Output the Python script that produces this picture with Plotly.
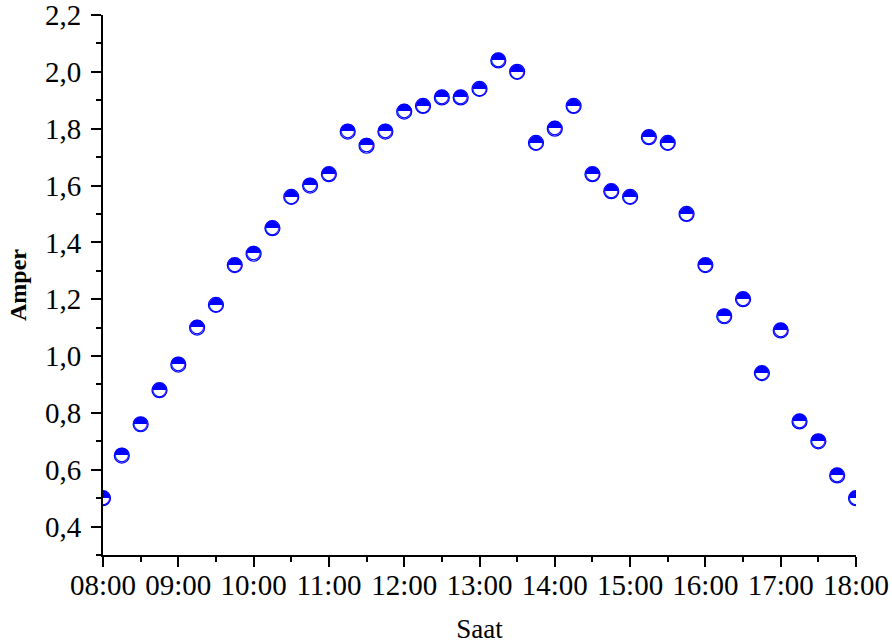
import plotly.graph_objects as go

times = ["08:00", "08:15", "08:30", "08:45", "09:00", "09:15", "09:30", "09:45",
         "10:00", "10:15", "10:30", "10:45", "11:00", "11:15", "11:30", "11:45",
         "12:00", "12:15", "12:30", "12:45", "13:00", "13:15", "13:30", "13:45",
         "14:00", "14:15", "14:30", "14:45", "15:00", "15:15", "15:30", "15:45",
         "16:00", "16:15", "16:30", "16:45", "17:00", "17:15", "17:30", "17:45",
         "18:00"]
amper = [0.50, 0.65, 0.76, 0.88, 0.97, 1.10, 1.18, 1.32,
         1.36, 1.45, 1.56, 1.60, 1.64, 1.79, 1.74, 1.79,
         1.86, 1.88, 1.91, 1.91, 1.94, 2.04, 2.00, 1.75,
         1.80, 1.88, 1.64, 1.58, 1.56, 1.77, 1.75, 1.50,
         1.32, 1.14, 1.20, 0.94, 1.09, 0.77, 0.70, 0.58,
         0.50]
y_ticks = [0.4, 0.6, 0.8, 1.0, 1.2, 1.4, 1.6, 1.8, 2.0, 2.2]
y_minor = [0.3, 0.5, 0.7, 0.9, 1.1, 1.3, 1.5, 1.7, 1.9, 2.1]

day = "2024-01-01 "
x = [day + t for t in times]

fig = go.Figure()
# white circle with blue outline (lower half)
fig.add_trace(go.Scatter(
    x=x, y=amper, mode="markers", cliponaxis=True,
    marker=dict(symbol="circle", size=15, color="white",
                line=dict(color="#0000ff", width=1.2)),
    showlegend=False, hoverinfo="skip"))
# upper half filled glyph
fig.add_trace(go.Scatter(
    x=x, y=amper, mode="text", cliponaxis=True,
    text=["\u25d3"] * len(x), textposition="middle center",
    textfont=dict(family="DejaVu Sans", size=19, color="#0000ff"),
    showlegend=False, hoverinfo="skip"))

axis_font = dict(family="Liberation Serif", size=29, color="black")

fig.update_layout(
    width=892, height=644,
    margin=dict(l=103, r=36, t=15, b=89),
    plot_bgcolor="white", paper_bgcolor="white",
    separators=", ",
    font=dict(family="Liberation Serif", color="black"),
)
fig.update_xaxes(
    type="date", automargin=False,
    range=[day + "08:00", day + "18:00"],
    tickformat="%H:%M", dtick=3600000, tick0=day + "08:00",
    ticks="outside", ticklen=10, tickwidth=1.6, tickcolor="black",
    ticklabelstandoff=-7, ticklabeloverflow="allow",
    minor=dict(dtick=1800000, tick0=day + "08:00", ticks="outside",
               ticklen=5, tickwidth=1.6, tickcolor="black", showgrid=False),
    showline=True, linecolor="black", linewidth=2,
    showgrid=False, zeroline=False,
    tickfont=axis_font,
    title=dict(text="Saat", font=dict(family="Liberation Serif", size=27), standoff=19),
)
fig.update_yaxes(
    automargin=False,
    range=[0.3, 2.2],
    tickmode="array", tickvals=y_ticks, tickformat=".1f",
    ticks="outside", ticklen=10, tickwidth=1.6, tickcolor="black",
    ticklabelstandoff=4, ticklabeloverflow="allow",
    minor=dict(tickmode="array", tickvals=y_minor, ticks="outside",
               ticklen=5, tickwidth=1.6, tickcolor="black", showgrid=False),
    showline=True, linecolor="black", linewidth=2,
    showgrid=False, zeroline=False,
    tickfont=axis_font,
    title=dict(text="<b>Amper</b>", font=dict(family="Liberation Serif", size=24), standoff=12),
)

fig.write_html("out.html", config={"displayModeBar": False},
               post_script="document.body.style.margin='0';")
